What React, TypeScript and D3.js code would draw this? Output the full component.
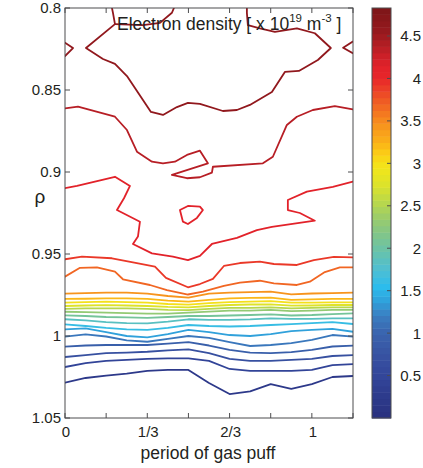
import React from "react";
import * as d3 from "d3";

// ---------- data ----------
const xTickValues = [0, 1 / 3, 2 / 3, 1];
const xTickLabels = ["0", "1/3", "2/3", "1"];
const xMinorTicks = [0, 1 / 6, 2 / 6, 3 / 6, 4 / 6, 5 / 6, 1, 7 / 6];
const yTicks = [0.8, 0.85, 0.9, 0.95, 1, 1.05];
const yTickLabels = ["0.8", "0.85", "0.9", "0.95", "1", "1.05"];
const cbTicks = [0.5, 1, 1.5, 2, 2.5, 3, 3.5, 4, 4.5];
const cbTickLabels = ["0.5", "1", "1.5", "2", "2.5", "3", "3.5", "4", "4.5"];

// contour levels (x 10^19 m^-3)
const levels = [0.23, 0.46, 0.69, 0.92, 1.15, 1.38, 1.61, 1.84, 2.07, 2.3, 2.53, 2.76, 2.99, 3.22, 3.45, 3.68, 3.91, 4.14, 4.37, 4.6];

// colormap stops [value, colour]
const cmapValues = [0, 0.25, 0.5, 0.75, 1.0, 1.2, 1.4, 1.55, 1.75, 1.95, 2.15, 2.35, 2.55, 2.75, 2.95, 3.1, 3.25, 3.45, 3.65, 3.85, 4.0, 4.15, 4.35, 4.55, 4.83];
const cmapColors = ["#29307f", "#2d3a8b", "#33469a", "#3853a2", "#3a64ae", "#3a7dc0", "#2fa5de", "#2cbcec", "#4fbfd2", "#66c2ad", "#7fc58c", "#9acb6c", "#bad84a", "#dde32a", "#f2e61b", "#fbd116", "#fbb118", "#f7941d", "#f26c22", "#ec4427", "#e8262a", "#e2222a", "#bb1f26", "#96191e", "#7c1518"];

// period grid for the flat contour lines
const periodGrid = [0, 1 / 12, 2 / 12, 3 / 12, 4 / 12, 5 / 12, 6 / 12, 7 / 12, 8 / 12, 9 / 12, 10 / 12, 11 / 12, 1, 13 / 12, 14 / 12];

// rho of each flat contour line at the period grid
const rhoL1 = [1.0285, 1.0256, 1.0241, 1.0229, 1.0213, 1.0207, 1.0207, 1.0287, 1.0354, 1.0338, 1.0293, 1.0323, 1.0293, 1.025, 1.0244];
const rhoL2 = [1.0189, 1.0165, 1.0152, 1.0146, 1.014, 1.0137, 1.0136, 1.0152, 1.0201, 1.0213, 1.0213, 1.0213, 1.0207, 1.0177, 1.0171];
const rhoL3 = [1.0128, 1.0116, 1.0104, 1.0101, 1.0096, 1.0088, 1.0082, 1.0104, 1.014, 1.0152, 1.0152, 1.0146, 1.014, 1.0122, 1.0116];
const rhoL4 = [1.0065, 1.0058, 1.0055, 1.0055, 1.0055, 1.0046, 1.0037, 1.0058, 1.0085, 1.0101, 1.0104, 1.0098, 1.0085, 1.0064, 1.0059];
const rhoL5 = [1.0004, 0.999, 1.0003, 1.0027, 1.0035, 1.0018, 1.0, 1.0012, 1.0037, 1.0061, 1.0055, 1.0043, 1.0024, 0.9994, 1.0004];
const rhoL6 = [0.9959, 0.9954, 0.9976, 1.0, 1.0008, 0.9988, 0.9963, 0.9976, 0.9994, 1.0, 0.9988, 0.997, 0.9963, 0.9957, 0.9974];
const rhoL7 = [0.9929, 0.9939, 0.9951, 0.996, 0.9963, 0.9951, 0.9933, 0.9939, 0.9942, 0.9939, 0.9933, 0.9927, 0.9921, 0.9915, 0.9927];
const rhoL8 = [0.9898, 0.9905, 0.9915, 0.9921, 0.9923, 0.9912, 0.9898, 0.9902, 0.9902, 0.9899, 0.9893, 0.9896, 0.9896, 0.9893, 0.9892];
const rhoL9 = [0.9874, 0.9878, 0.9884, 0.9887, 0.989, 0.9884, 0.9878, 0.9878, 0.9875, 0.9872, 0.9868, 0.9875, 0.9872, 0.9866, 0.9862];
const rhoL10 = [0.9852, 0.9854, 0.9857, 0.986, 0.9863, 0.9863, 0.9858, 0.9851, 0.9845, 0.9845, 0.9841, 0.9848, 0.9845, 0.9841, 0.9841];
const rhoL11 = [0.9834, 0.9832, 0.9831, 0.9832, 0.9835, 0.9841, 0.9842, 0.9835, 0.9829, 0.9828, 0.9825, 0.9831, 0.9829, 0.9826, 0.9825];
const rhoL12 = [0.9817, 0.9814, 0.9812, 0.9814, 0.9817, 0.9823, 0.9825, 0.9817, 0.9811, 0.9808, 0.9807, 0.9815, 0.9814, 0.9811, 0.9811];
const rhoL13 = [0.9797, 0.9794, 0.9791, 0.9793, 0.9796, 0.9805, 0.9809, 0.9799, 0.9793, 0.979, 0.9787, 0.9797, 0.9796, 0.9795, 0.9795];
const rhoL14 = [0.9774, 0.9773, 0.9771, 0.9771, 0.9774, 0.9784, 0.9791, 0.978, 0.9771, 0.9768, 0.9766, 0.978, 0.9777, 0.9774, 0.9774];
const rhoL15 = [0.9742, 0.9738, 0.9735, 0.9735, 0.9741, 0.9756, 0.9766, 0.9741, 0.9735, 0.9732, 0.973, 0.9746, 0.9741, 0.9738, 0.9736];

// irregular contour lines as [period, rho] points
const lineL16: [number, number][] = [[0, 0.9638], [0.0607, 0.9584], [0.1296, 0.9581], [0.2024, 0.9608], [0.2348, 0.9654], [0.3441, 0.9689], [0.413, 0.972], [0.498, 0.9747], [0.5587, 0.973], [0.6437, 0.9695], [0.7085, 0.9675], [0.7895, 0.9663], [0.8462, 0.9679], [0.9393, 0.9689], [0.9919, 0.9669], [1.0526, 0.961], [1.1134, 0.9581], [1.166, 0.9581]];
const lineL17: [number, number][] = [[0, 0.9532], [0.0688, 0.9516], [0.1903, 0.9526], [0.2753, 0.9551], [0.3644, 0.9577], [0.4089, 0.9646], [0.498, 0.9703], [0.5466, 0.9683], [0.5992, 0.9652], [0.6437, 0.9573], [0.7085, 0.9555], [0.7895, 0.9547], [0.8462, 0.9561], [0.9393, 0.9567], [1.0081, 0.9537], [1.0891, 0.9518], [1.166, 0.952]];
const lineL18: [number, number][] = [[0, 0.9099], [0.0486, 0.9085], [0.2024, 0.9029], [0.2632, 0.9085], [0.2389, 0.916], [0.2105, 0.9232], [0.3036, 0.9303], [0.2955, 0.9394], [0.2753, 0.9439], [0.3522, 0.9496], [0.4372, 0.9516], [0.498, 0.9537], [0.5466, 0.9512], [0.5951, 0.9439], [0.6964, 0.9402], [0.7773, 0.9354], [0.8381, 0.9335], [1.0121, 0.9297], [0.9514, 0.925], [0.9028, 0.9232], [0.9028, 0.9171], [0.9798, 0.912], [1.085, 0.909], [1.166, 0.9059]];
const lineL18Island: [number, number][] = [[0.4656, 0.9232], [0.498, 0.9207], [0.5466, 0.9211], [0.5587, 0.9232], [0.5344, 0.928], [0.498, 0.9317], [0.4777, 0.9303], [0.4656, 0.9232]];
const lineL19: [number, number][] = [[0, 0.8612], [0.0526, 0.8602], [0.2024, 0.8663], [0.251, 0.8744], [0.2915, 0.8876], [0.3522, 0.8937], [0.3968, 0.8947], [0.4453, 0.8937], [0.4939, 0.8896], [0.5466, 0.887], [0.5789, 0.8947], [0.4332, 0.9018], [0.4939, 0.9038], [0.5466, 0.9032], [0.5951, 0.9004], [0.5992, 0.8968], [0.8016, 0.8947], [0.8421, 0.8907], [0.8988, 0.8713], [0.9393, 0.8663], [1.004, 0.8622], [1.0931, 0.8598], [1.166, 0.8618]];
const lineL20Main: [number, number][] = [[0.1903, 0.8], [0.1943, 0.803], [0.2024, 0.8098], [0.085, 0.8244], [0.1538, 0.8311], [0.2024, 0.8341], [0.251, 0.8415], [0.3482, 0.8634], [0.3968, 0.8652], [0.4534, 0.8604], [0.498, 0.8579], [0.5466, 0.8585], [0.6397, 0.8628], [0.6964, 0.8622], [0.749, 0.8591], [0.8381, 0.8512], [0.8907, 0.839], [0.9474, 0.8384], [1.0243, 0.8317], [1.0769, 0.8244], [1.0121, 0.8154], [0.9393, 0.8124], [0.8502, 0.8145], [0.7895, 0.8124], [0.7409, 0.8104], [0.7368, 0.803], [0.7368, 0.8]];
const lineL20Top: [number, number][] = [[0.2024, 0.8098], [0.3158, 0.8104], [0.3846, 0.8091], [0.4332, 0.8029], [0.4413, 0.8]];
const lineL20Left: [number, number][] = [[0, 0.8212], [0.0324, 0.8244], [0, 0.8293]];
const lineL20Right: [number, number][] = [[1.166, 0.8205], [1.1267, 0.8242], [1.166, 0.8276]];

// ---------- component ----------
const W = 423;
const H = 468;
const FONT = "'Liberation Sans', Arial, sans-serif";
const INK = "#231f20";
const BOX = "#4d4d4f";

export default function App() {
  const x = d3.scaleLinear().domain([0, 7 / 6]).range([65, 353]);
  const y = d3.scaleLinear().domain([0.8, 1.05]).range([8, 418]);
  const cmap = d3.scaleLinear<string>().domain(cmapValues).range(cmapColors).clamp(true);
  const cbDomain: [number, number] = [0, 4.83];
  const cy = d3.scaleLinear().domain(cbDomain).range([418, 8]);
  const cbX0 = 372;
  const cbX1 = 391;

  const line = d3
    .line<[number, number]>()
    .x((d) => x(d[0]))
    .y((d) => y(d[1]));

  const bands = [rhoL1, rhoL2, rhoL3, rhoL4, rhoL5, rhoL6, rhoL7, rhoL8, rhoL9, rhoL10, rhoL11, rhoL12, rhoL13, rhoL14, rhoL15];
  const paths: { d: string; level: number }[] = [];
  bands.forEach((rhos, i) => {
    const pts = periodGrid.map((p, j) => [p, rhos[j]] as [number, number]);
    paths.push({ d: line(pts) as string, level: levels[i] });
  });
  paths.push({ d: line(lineL16) as string, level: levels[15] });
  paths.push({ d: line(lineL17) as string, level: levels[16] });
  paths.push({ d: line(lineL18) as string, level: levels[17] });
  paths.push({ d: line(lineL18Island) as string, level: levels[17] });
  paths.push({ d: line(lineL19) as string, level: levels[18] });
  [lineL20Main, lineL20Top, lineL20Left, lineL20Right].forEach((l) =>
    paths.push({ d: line(l) as string, level: levels[19] })
  );

  // colour bar: 64 discrete bands
  const nBands = 64;
  const step = (cbDomain[1] - cbDomain[0]) / nBands;
  const cbBands = d3.range(nBands).map((i) => {
    const v0 = cbDomain[0] + i * step;
    return { y0: cy(v0 + step), y1: cy(v0), c: cmap(v0 + step / 2) };
  });

  const [px0, px1] = x.range();
  const [py0, py1] = y.range();

  return (
    <svg
      width={W}
      height={H}
      style={{ position: "absolute", left: 0, top: 0, background: "#fff" }}
      fontFamily={FONT}
    >
      <defs>
        <clipPath id="plotClip">
          <rect x={px0} y={py0} width={px1 - px0} height={py1 - py0} />
        </clipPath>
      </defs>
      <rect x={0} y={0} width={W} height={H} fill="#fff" />

      <g clipPath="url(#plotClip)">
        {paths.map((p, i) => (
          <path
            key={i}
            d={p.d}
            fill="none"
            stroke={cmap(p.level)}
            strokeWidth={1.8}
            strokeLinejoin="round"
            strokeLinecap="round"
          />
        ))}
      </g>

      {/* axes box */}
      <rect x={px0} y={py0} width={px1 - px0} height={py1 - py0} fill="none" stroke={BOX} strokeWidth={1} />
      {xMinorTicks.map((t, i) => (
        <g key={"xt" + i}>
          <line x1={x(t)} x2={x(t)} y1={py1} y2={py1 - 5} stroke={BOX} />
          <line x1={x(t)} x2={x(t)} y1={py0} y2={py0 + 5} stroke={BOX} />
        </g>
      ))}
      {yTicks.map((t, i) => (
        <g key={"yt" + i}>
          <line x1={px0} x2={px0 + 5} y1={y(t)} y2={y(t)} stroke={BOX} />
          <line x1={px1} x2={px1 - 5} y1={y(t)} y2={y(t)} stroke={BOX} />
          <text x={61} y={y(t)} dy="0.36em" textAnchor="end" fontSize={15} fill={INK}>
            {yTickLabels[i]}
          </text>
        </g>
      ))}
      {xTickValues.map((t, i) => (
        <text key={"xl" + i} x={x(t) + 1} y={437} textAnchor="middle" fontSize={15} fill={INK}>
          {xTickLabels[i]}
        </text>
      ))}

      <text x={208} y={459} textAnchor="middle" fontSize={17.5} fill={INK}>
        period of gas puff
      </text>
      <text x={40} y={203} textAnchor="middle" fontSize={19} fill={INK}>
        ρ
      </text>

      {/* title */}
      <text x={117} y={30} fontSize={17.5} fill={INK}>
        Electron density [ x 10
        <tspan dy={-8} fontSize={11.5}>19</tspan>
        <tspan dy={8}> m</tspan>
        <tspan dy={-8} fontSize={11.5}>-3</tspan>
        <tspan dy={8}>{"    ]"}</tspan>
      </text>

      {/* colour bar */}
      {cbBands.map((b, i) => (
        <rect key={"cb" + i} x={cbX0} y={b.y0} width={cbX1 - cbX0} height={b.y1 - b.y0 + 0.5} fill={b.c} />
      ))}
      <rect x={cbX0} y={cy(cbDomain[1])} width={cbX1 - cbX0} height={cy(cbDomain[0]) - cy(cbDomain[1])} fill="none" stroke={BOX} strokeWidth={1} />
      {cbTicks.map((t, i) => (
        <g key={"cbt" + i}>
          <line x1={cbX1} x2={cbX1 - 4} y1={cy(t)} y2={cy(t)} stroke={BOX} />
          <text x={421} y={cy(t)} dy="0.36em" textAnchor="end" fontSize={15} fill={INK}>
            {cbTickLabels[i]}
          </text>
        </g>
      ))}
    </svg>
  );
}
